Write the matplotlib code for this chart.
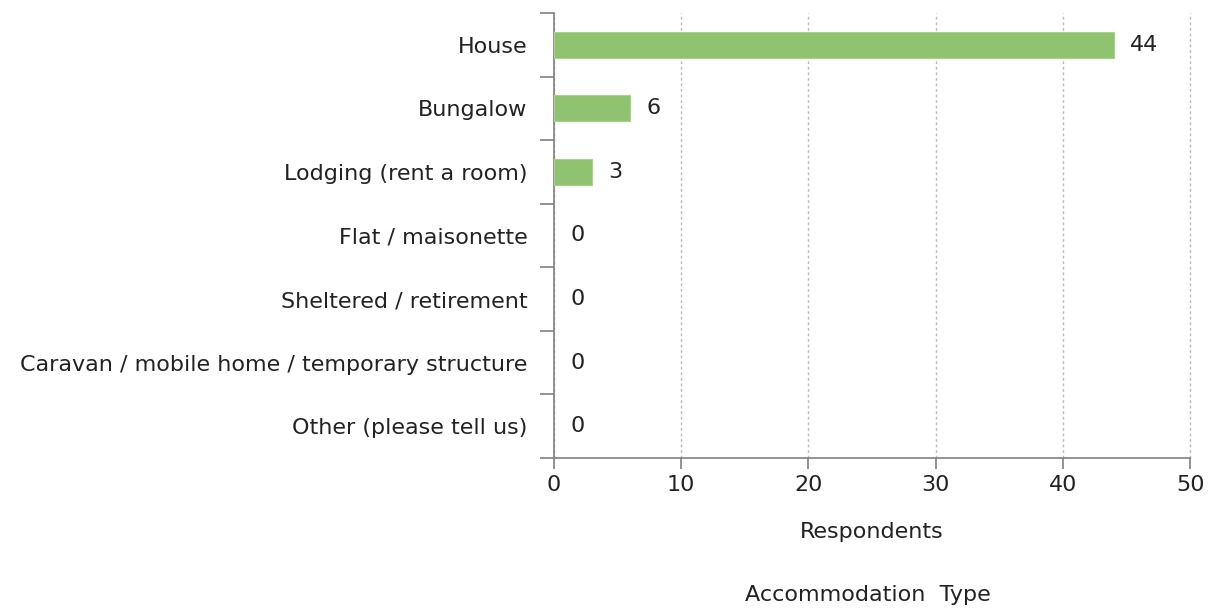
import matplotlib.pyplot as plt
import numpy as np

# accommodation categories and respondent counts
categories = ["House", "Bungalow", "Lodging (rent a room)", "Flat / maisonette",
              "Sheltered / retirement", "Caravan / mobile home / temporary structure",
              "Other (please tell us)"]
counts = [44, 6, 3, 0, 0, 0, 0]
x_ticks = [0, 10, 20, 30, 40, 50]

plt.rcParams['font.family'] = ['DejaVu Sans']
fs = 16
fig = plt.figure(figsize=(12.17, 6.08), dpi=100)
ax = fig.add_axes([0.455, 0.2467, 0.523, 0.732])

y = np.arange(len(categories))
widths = [0.8 if c > 0 else 0 for c in counts]
ax.barh(y, counts, height=0.41, color="#8FC36F", edgecolor="#A8D38E", linewidth=widths, zorder=3)
for yi, c in zip(y, counts):
    ax.text(c + 1.3, yi, str(c), va="center", ha="left", fontsize=fs, color="#222222")

ax.set_ylim(len(categories) - 0.5, -0.5)
ax.set_xlim(0, 50)
ax.set_xticks(x_ticks)
ax.set_yticks(y)
ax.set_yticklabels(categories, fontsize=fs, color="#222222")
ax.set_yticks(np.arange(-0.5, len(categories)), minor=True)
ax.tick_params(axis="y", which="major", length=0, pad=19)
ax.tick_params(axis="y", which="minor", length=10, color="#808080", width=1.2)
ax.tick_params(axis="x", length=8, color="#808080", width=1.2, labelsize=fs,
               labelcolor="#222222", pad=4)

ax.grid(axis="x", linestyle=(0, (2, 2)), color="#BBBBBB", linewidth=1, zorder=0, clip_on=False)
for s in ["top", "right"]:
    ax.spines[s].set_visible(False)
for s in ["left", "bottom"]:
    ax.spines[s].set_color("#808080")
    ax.spines[s].set_linewidth(1.2)

ax.set_xlabel("Respondents", fontsize=fs, color="#222222", labelpad=20)
fig.text(0.713, 0.012, "Accommodation  Type", fontsize=fs, color="#222222", ha="center")

fig.savefig("out.png", dpi=100)
